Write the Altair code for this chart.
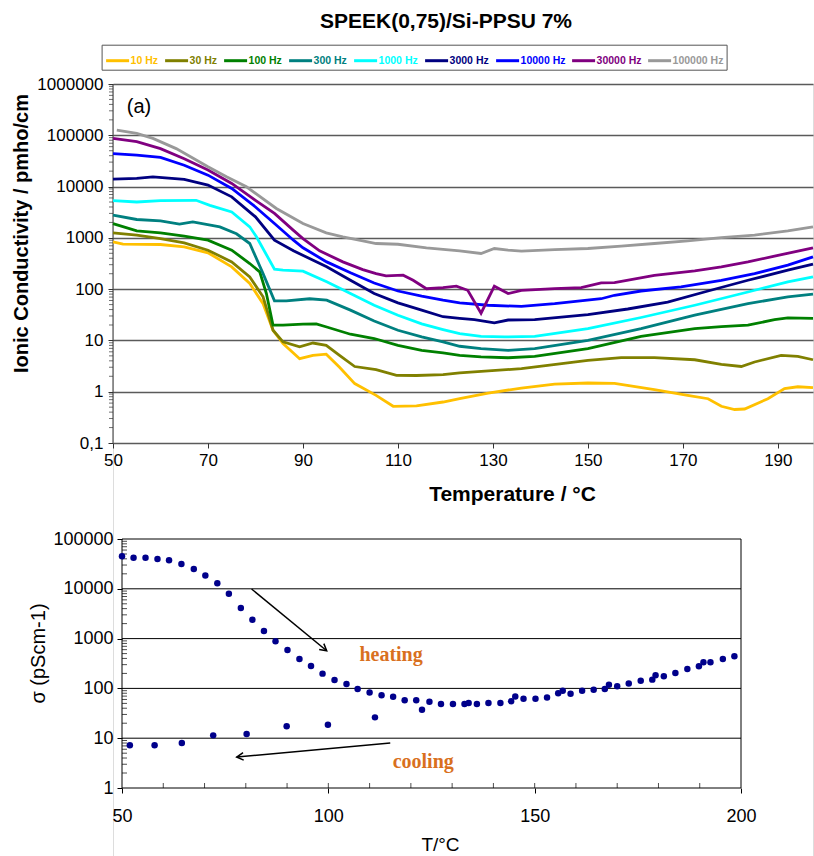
import altair as alt
import pandas as pd

FONT = "Liberation Sans"

# ---------------- top panel: ionic conductivity vs temperature ----------------
freq_labels = ["10 Hz", "30 Hz", "100 Hz", "300 Hz", "1000 Hz", "3000 Hz",
               "10000 Hz", "30000 Hz", "100000 Hz"]
freq_colors = ["#FFC000", "#808000", "#008000", "#008080", "#00FFFF", "#000080",
               "#0000FF", "#800080", "#999999"]

t_10hz = [50.0, 52.1, 60.0, 65.0, 70.0, 75.0, 78.8, 81.6, 83.7, 85.8, 89.3, 92.1, 94.9, 97.7,
          100.9, 105.4, 109.0, 113.9, 119.5, 123.0, 129.0, 136.0, 143.0, 150.0, 155.6, 164.0,
          171.0, 175.3, 178.1, 180.9, 183.0, 187.9, 191.4, 194.2, 197.4]
s_10hz = [838, 754, 742, 668, 511, 272, 129, 52, 15.8, 8.7, 4.4, 5.1, 5.4, 3.0, 1.44, 0.85,
          0.52, 0.53, 0.63, 0.73, 0.94, 1.18, 1.4, 1.48, 1.45, 1.1, 0.85, 0.73, 0.52, 0.45,
          0.46, 0.73, 1.15, 1.25, 1.2]

t_30hz = [50.0, 55.0, 60.0, 65.0, 70.0, 75.0, 78.8, 81.6, 83.7, 85.8, 89.3, 92.1, 94.9, 97.7,
          100.9, 105.4, 109.7, 113.9, 119.5, 123.0, 136.0, 150.0, 157.0, 164.0, 172.5, 178.1,
          182.3, 185.1, 190.7, 194.2, 197.4]
s_30hz = [1250, 1130, 970, 800, 575, 340, 173, 71, 15.8, 9.4, 7.5, 8.9, 8.0, 5.1, 3.1, 2.7,
          2.09, 2.07, 2.15, 2.32, 2.82, 4.1, 4.6, 4.6, 4.2, 3.4, 3.1, 3.8, 5.1, 4.9, 4.2]

t_100hz = [50.0, 55.0, 60.0, 65.0, 70.0, 75.0, 78.8, 80.9, 82.3, 83.7, 85.8, 90.0, 92.8, 95.0,
           100.0, 105.0, 110.0, 115.0, 119.5, 123.0, 127.5, 133.2, 138.8, 150.0, 161.2, 172.5,
           178.1, 183.7, 189.3, 192.1, 197.4]
s_100hz = [1900, 1370, 1250, 1080, 900, 575, 316, 217, 82, 19.8, 19.8, 20.7, 21, 18.3, 13.2,
           10.9, 8.0, 6.4, 5.7, 5.1, 4.8, 4.6, 4.9, 6.9, 12, 17, 18.5, 19.8, 25.5, 27.5, 27]

t_300hz = [50.0, 55.0, 60.0, 64.0, 66.8, 72.5, 76.0, 78.8, 81.6, 84.0, 86.5, 91.4, 95.0, 100.0,
           105.0, 110.0, 115.0, 119.5, 123.0, 127.5, 133.2, 138.8, 150.0, 161.2, 172.5, 183.7,
           192.1, 197.4]
s_300hz = [2770, 2280, 2150, 1850, 2050, 1640, 1200, 776, 201, 59, 59, 65, 61, 39, 24, 15.8,
           11.7, 9.4, 7.7, 6.9, 6.4, 6.9, 10, 17, 31, 52, 71, 80]

t_1khz = [50.0, 55.0, 60.0, 67.5, 70.4, 75.0, 78.8, 80.2, 84.0, 85.8, 90.0, 95.0, 100.0, 105.0,
          110.0, 115.0, 119.5, 123.0, 127.5, 132.5, 138.8, 150.0, 161.2, 172.5, 183.7, 192.1,
          197.4]
s_1khz = [5300, 5000, 5300, 5400, 4300, 3200, 1640, 1050, 245, 234, 224, 139, 82, 48.5, 31,
          21, 16.3, 13.6, 12, 11.7, 12, 17, 28, 48.5, 88, 139, 173]

t_3khz = [50.0, 55.0, 58.4, 65.0, 70.0, 75.0, 80.0, 84.0, 88.0, 95.0, 100.0, 105.0, 110.0,
          115.0, 119.5, 123.0, 126.1, 130.3, 133.2, 138.8, 150.0, 158.4, 166.8, 175.3, 183.7,
          192.1, 197.4]
s_3khz = [14000, 14400, 15500, 13800, 10700, 6300, 2570, 900, 560, 272, 149, 82, 54, 39, 29,
          27, 25.5, 22, 25, 25.5, 32, 41, 56, 92, 149, 234, 307]

t_10khz = [50.0, 55.0, 60.0, 65.0, 70.0, 75.0, 80.0, 84.0, 88.0, 90.0, 95.0, 100.0, 105.0,
           110.0, 115.0, 119.5, 123.0, 129.0, 136.0, 143.0, 152.8, 155.6, 161.2, 169.6, 178.1,
           185.1, 192.1, 197.4]
s_10khz = [44000, 41000, 37000, 26000, 16700, 9200, 4000, 1900, 900, 640, 340, 208, 132, 92,
           73, 61, 54, 48.5, 46, 52, 65, 76, 92, 111, 149, 201, 293, 427]

t_30khz = [50.0, 55.0, 60.0, 65.0, 70.0, 75.0, 80.0, 84.0, 88.0, 90.0, 93.5, 98.4, 102.6,
           105.4, 107.5, 111.1, 113.2, 116.0, 119.5, 122.3, 124.7, 127.5, 130.3, 133.2, 136.0,
           143.0, 148.6, 152.8, 155.6, 164.0, 172.5, 178.1, 183.7, 189.3, 197.4]
s_30khz = [87000, 75000, 55000, 35000, 21000, 11500, 5400, 3000, 1400, 970, 560, 340, 241,
           201, 181, 187, 149, 102, 107, 114, 95, 34, 114, 82, 95, 102, 107, 132, 134, 186,
           227, 272, 340, 440, 640]

t_100khz = [50.8, 55.0, 58.4, 63.3, 70.0, 73.9, 78.1, 84.4, 90.0, 94.9, 98.4, 102.6, 105.4,
            110.0, 116.0, 123.0, 127.5, 130.3, 133.2, 136.0, 143.0, 150.0, 157.0, 164.0, 171.0,
            178.1, 185.1, 192.1, 197.4]
s_100khz = [126000, 109000, 87000, 55000, 24300, 15500, 9900, 3740, 1900, 1250, 1050, 870,
            776, 750, 640, 560, 496, 620, 575, 550, 590, 620, 690, 776, 875, 1015, 1130, 1372,
            1640]

top_series = [(t_10hz, s_10hz), (t_30hz, s_30hz), (t_100hz, s_100hz), (t_300hz, s_300hz),
              (t_1khz, s_1khz), (t_3khz, s_3khz), (t_10khz, s_10khz), (t_30khz, s_30khz),
              (t_100khz, s_100khz)]

top_x_ticks = [50, 70, 90, 110, 130, 150, 170, 190]
top_y_ticks = [0.1, 1, 10, 100, 1000, 10000, 100000, 1000000]
top_minor = [m * 10.0 ** e for e in range(-1, 6) for m in range(2, 10)]

panel_tag = ["(a)"]
panel_tag_t = [52.9]
panel_tag_v = [272000]

# ---------------- bottom panel: sigma vs T ----------------
heat_t = [50.0, 52.8, 55.7, 58.6, 61.4, 64.4, 67.4, 70.2, 73.1, 75.9, 78.8, 81.6, 84.4, 87.2,
          90.1, 93.0, 95.8, 98.6, 101.5, 104.4, 107.1, 110.0, 112.9, 115.7, 118.5, 121.3,
          122.7, 124.5, 127.3, 130.2, 133.0, 134.0, 136.0, 138.8, 141.7, 144.3, 145.3, 147.3,
          150.2, 153.0, 155.7, 156.8, 158.7, 161.5, 164.3, 167.0, 168.0, 170.0, 172.8, 175.7,
          178.5, 179.3, 181.3, 184.1, 187.0, 189.8, 190.9, 192.6, 195.6, 198.4]
heat_s = [44900, 42200, 42200, 39600, 37300, 31500, 25000, 18400, 12900, 7990, 4110, 2400,
          1420, 881, 590, 389, 282, 198, 147, 122, 97, 83, 73, 68, 57.6, 57.6, 37.4, 54, 48.6,
          48.6, 48.6, 50.8, 48.6, 50.8, 50.8, 55, 69, 62, 62, 66, 80, 90, 78, 90, 94, 97, 119,
          110, 126, 143, 150, 183, 175, 204, 245, 277, 334, 334, 389, 440]
cool_t = [51.9, 57.9, 64.5, 72.1, 80.2, 89.9, 99.9, 111.3]
cool_s = [7.2, 7.2, 8.0, 11.4, 12.1, 17.3, 18.7, 26.2]

bot_x_ticks = [50, 100, 150, 200]
bot_x_minor = [60, 70, 80, 90, 100, 110, 120, 130, 140, 150, 160, 170, 180, 190]
bot_y_ticks = [1, 10, 100, 1000, 10000, 100000]
bot_minor = [m * 10.0 ** e for e in range(0, 5) for m in range(2, 10)]
grid_levels = [1, 10, 100, 1000, 10000, 100000]

arrow_t = [81.4, 115.0]
arrow_s = [9900, 8.0]
arrow_t2 = [99.6, 77.8]
arrow_s2 = [571, 4.19]
arrow_angle = [129, 265]

note_text = ["heating", "cooling"]
note_t = [115.2, 123.0]
note_s = [348, 2.57]

# ---------------- tables ----------------
rows = []
for name, (ts, ss) in zip(freq_labels, top_series):
    for t, s in zip(ts, ss):
        rows.append({"T": t, "v": s, "freq": name})
df_lines = pd.DataFrame(rows)
df_tag = pd.DataFrame({"T": panel_tag_t, "v": panel_tag_v, "txt": panel_tag})
df_top_minor = pd.DataFrame({"T": [50.0] * len(top_minor), "v": top_minor})
df_top_frame = pd.DataFrame({"T": [50.0], "T2": [50.0], "v": [0.1], "v2": [1000000.0]})

df_pts = pd.DataFrame({"T": heat_t + cool_t, "v": heat_s + cool_s})
df_rules = pd.DataFrame({
    "T": [50.0] * len(grid_levels) + [200.0, 50.0],
    "T2": [200.0] * len(grid_levels) + [200.0, 50.0],
    "v": grid_levels + [1, 1],
    "v2": grid_levels + [100000, 100000],
})
df_arrows = pd.DataFrame({"T": arrow_t, "v": arrow_s, "T2": arrow_t2, "v2": arrow_s2,
                          "ang": arrow_angle})
df_heads = pd.DataFrame({"T": arrow_t2, "v": arrow_s2, "ang": arrow_angle})
df_notes = pd.DataFrame({"T": note_t, "v": note_s, "txt": note_text})
df_bot_yminor = pd.DataFrame({"T": [50.0] * len(bot_minor), "v": bot_minor})
df_bot_xminor = pd.DataFrame({"T": bot_x_minor, "v": [1.0] * len(bot_x_minor)})

# ---------------- scales & axes ----------------
VIEW_H = 772
sx1 = alt.Scale(domain=[50, 197.4], range=[0, 700], nice=False, zero=False)
sy1 = alt.Scale(type="log", domain=[0.1, 1000000], range=[359, 0], nice=False)
sx2 = alt.Scale(domain=[50, 200], range=[9, 628], nice=False, zero=False)
sy2 = alt.Scale(type="log", domain=[1, 100000], range=[704, 455], nice=False)

ax1 = alt.Axis(orient="bottom", offset=359 - VIEW_H, values=top_x_ticks, format="d",
               domain=False,
               labelFont=FONT, labelFontSize=17, labelColor="black", labelPadding=4,
               labelFlush=False, tickSize=5, tickColor="#333333",
               grid=False, title="Temperature / °C", titleFont=FONT, titleFontSize=21,
               titleFontWeight="bold", titleColor="black", titleX=399, titleY=57,
               titleBaseline="alphabetic", titleAlign="center")
ay1 = alt.Axis(orient="left", values=top_y_ticks, domain=False,
               labelExpr="datum.value < 1 ? '0,1' : format(datum.value, 'd')",
               labelFont=FONT, labelFontSize=17, labelColor="black", labelPadding=5,
               tickSize=5, tickColor="#333333",
               grid=True, gridColor="#5a5a5a", gridWidth=1.7,
               title="Ionic Conductivity / pmho/cm", titleFont=FONT, titleFontSize=20,
               titleFontWeight="bold", titleColor="black", titleX=-92, titleY=149,
               titleBaseline="middle", titleAlign="center", titleAngle=270)
ax2 = alt.Axis(orient="bottom", offset=704 - VIEW_H, values=bot_x_ticks, format="d",
               domain=False,
               labelFont=FONT, labelFontSize=18, labelColor="black", labelPadding=14,
               labelFlush=False, tickSize=5, tickColor="black",
               grid=False, title="T/°C", titleFont=FONT, titleFontSize=19,
               titleFontWeight="normal", titleColor="black", titleX=327, titleY=62,
               titleBaseline="alphabetic", titleAlign="center")
ay2 = alt.Axis(orient="left", offset=-9, values=bot_y_ticks, format="d", domain=False,
               labelFont=FONT, labelFontSize=18, labelColor="black", labelPadding=4,
               tickSize=5, tickColor="black", grid=False,
               title="σ (pScm-1)", titleFont=FONT, titleFontSize=20,
               titleFontWeight="normal", titleColor="black", titleX=-84, titleY=569,
               titleBaseline="middle", titleAlign="center", titleAngle=270)


def X1():
    return alt.X("T:Q", scale=sx1, axis=ax1)


def Y1():
    return alt.Y("v:Q", scale=sy1, axis=ay1)


def X2():
    return alt.X("T:Q", scale=sx2, axis=ax2)


def Y2():
    return alt.Y("v:Q", scale=sy2, axis=ay2)


label_color_expr = " : ".join(
    f"datum.label == '{l}' ? '{c}'" for l, c in zip(freq_labels, freq_colors)
) + " : 'black'"

legend = alt.Legend(orient="none", legendX=-11.4, legendY=-39.3, direction="horizontal",
                    columns=9, title=None, symbolType="stroke", symbolStrokeWidth=3,
                    symbolSize=529, labelFont=FONT, labelFontSize=10.5,
                    labelFontWeight="bold", labelColor=alt.ExprRef(expr=label_color_expr),
                    labelOffset=0, columnPadding=0, padding=3, strokeColor="#555555",
                    fillColor="white", rowPadding=0)

top_frame = alt.Chart(df_top_frame).mark_rule(color="#333333", strokeWidth=1).encode(
    x=X1(), x2="T2:Q", y=Y1(), y2="v2:Q")
lines = alt.Chart(df_lines).mark_line(strokeWidth=2.8).encode(
    x=X1(), y=Y1(),
    color=alt.Color("freq:N", scale=alt.Scale(domain=freq_labels, range=freq_colors),
                    sort=freq_labels, legend=legend),
)
tag = alt.Chart(df_tag).mark_text(font=FONT, fontSize=20, align="left",
                                  baseline="alphabetic", color="black").encode(
    x=X1(), y=Y1(), text="txt:N")
top_minor_ticks = alt.Chart(df_top_minor).mark_tick(
    orient="horizontal", size=4, thickness=1, color="#333333", xOffset=-2).encode(
    x=X1(), y=Y1())

top = alt.layer(top_frame, top_minor_ticks, lines, tag)

rules = alt.Chart(df_rules).mark_rule(color="black", strokeWidth=1).encode(
    x=X2(), x2="T2:Q", y=Y2(), y2="v2:Q")
bot_yminor = alt.Chart(df_bot_yminor).mark_tick(
    orient="horizontal", size=5, thickness=1, color="black", xOffset=2.5).encode(
    x=X2(), y=Y2())
bot_xminor = alt.Chart(df_bot_xminor).mark_tick(
    orient="vertical", size=5, thickness=1, color="black", yOffset=-2.5).encode(
    x=X2(), y=Y2())
pts = alt.Chart(df_pts).mark_circle(size=42, color="#00008B", opacity=1).encode(
    x=X2(), y=Y2())
arrows = alt.Chart(df_arrows).mark_rule(color="black", strokeWidth=1.5).encode(
    x=X2(), x2="T2:Q", y=Y2(), y2="v2:Q")
heads = alt.Chart(df_heads).mark_point(
    shape="M-0.5,0.9L0,0L0.5,0.9", filled=False, color="black", strokeWidth=1.5,
    size=220, opacity=1).encode(
    x=X2(), y=Y2(), angle=alt.Angle("ang:Q", scale=None))
notes = alt.Chart(df_notes).mark_text(
    font="Liberation Serif", fontSize=20, fontWeight="bold", color="#D9701E",
    align="center", baseline="alphabetic").encode(x=X2(), y=Y2(), text="txt:N")

bottom = alt.layer(rules, bot_yminor, bot_xminor, pts, arrows, heads, notes)

chart = alt.layer(top, bottom).resolve_scale(
    x="independent", y="independent"
).resolve_axis(
    x="independent", y="independent"
).properties(
    width=700, height=VIEW_H,
    autosize=alt.AutoSizeParams(type="none"),
    padding={"left": 113, "top": 84, "right": 1, "bottom": 0},
    title=alt.Title("SPEEK(0,75)/Si-PPSU 7%", font=FONT, fontSize=21, fontWeight="bold",
                    color="black", anchor="middle", frame="group", dx=-17, offset=12),
).configure_view(stroke="transparent", strokeWidth=0).configure_axis(
    domain=False
).configure(background="white")

chart.save("out.html", embed_options={"renderer": "svg", "actions": False})
